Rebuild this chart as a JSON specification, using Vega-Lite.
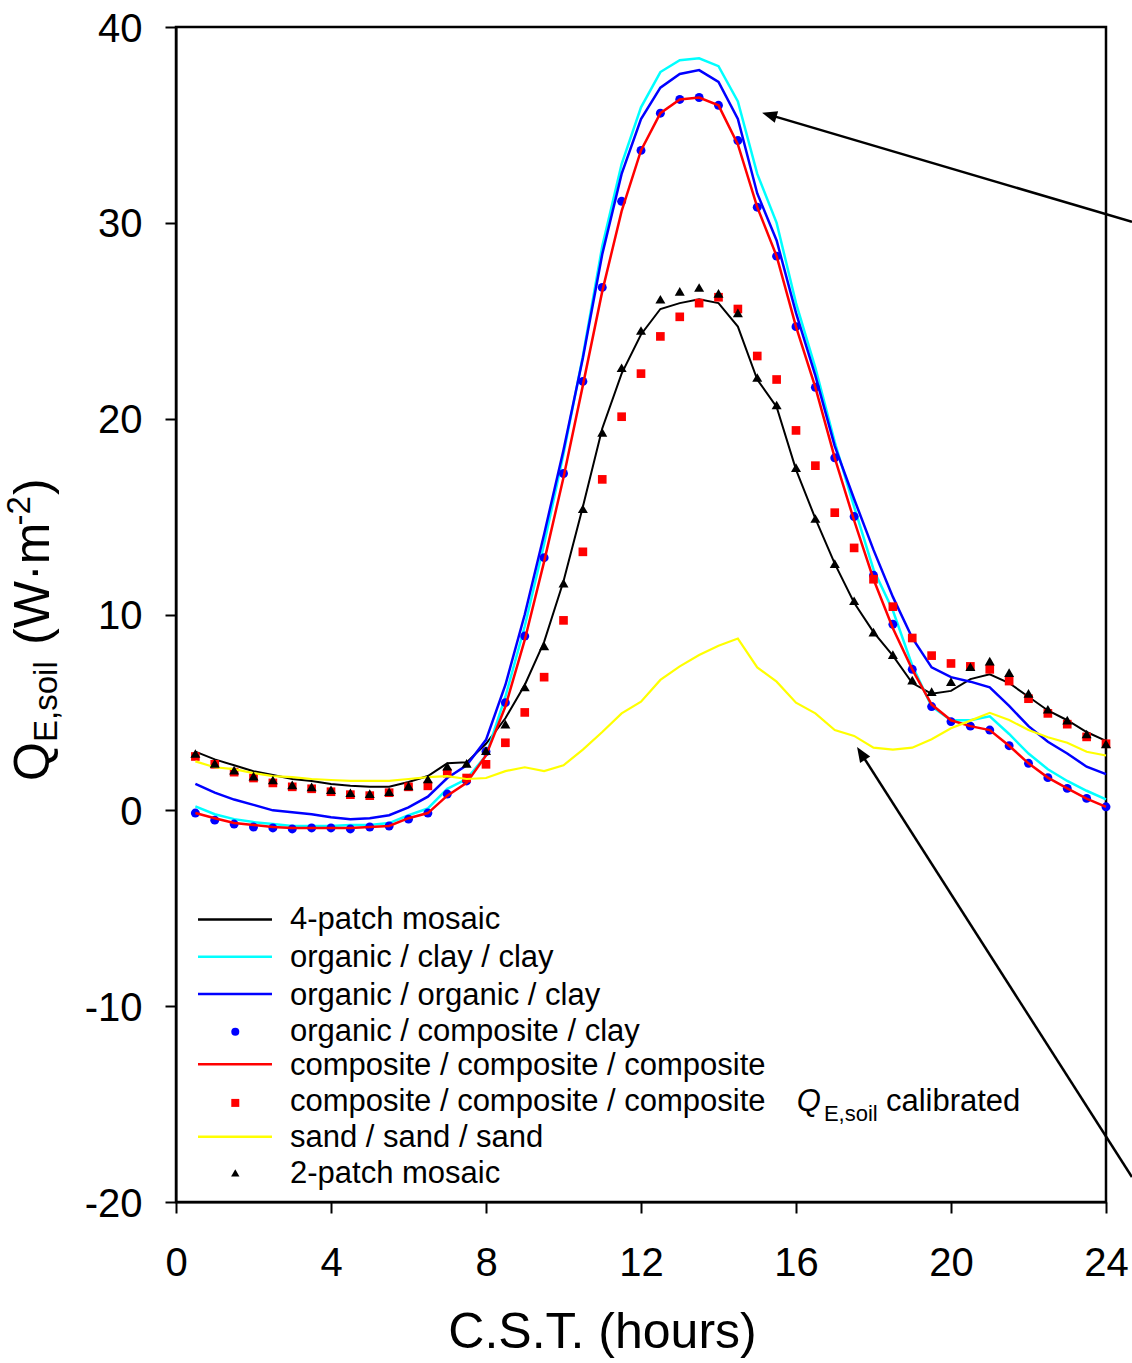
{
  "$schema": "https://vega.github.io/schema/vega-lite/v6.json",
  "width": 930,
  "height": 1175,
  "autosize": {"type": "none"},
  "padding": {"left": 176, "top": 27, "right": 26, "bottom": 161},
  "background": "white",
  "config": {
    "font": "Liberation Sans",
    "view": {"stroke": "black", "strokeWidth": 2.5}
  },
  "datasets": {
    "fourPatch": [{"h":0.5,"v":3.0},{"h":1,"v":2.6},{"h":1.5,"v":2.3},{"h":2,"v":2.0},{"h":2.5,"v":1.8},{"h":3,"v":1.6},{"h":3.5,"v":1.5},{"h":4,"v":1.35},{"h":4.5,"v":1.25},{"h":5,"v":1.2},{"h":5.5,"v":1.2},{"h":6,"v":1.45},{"h":6.5,"v":1.75},{"h":7,"v":2.4},{"h":7.5,"v":2.45},{"h":8,"v":3.4},{"h":8.5,"v":4.7},{"h":9,"v":6.4},{"h":9.5,"v":8.6},{"h":10,"v":11.7},{"h":10.5,"v":15.5},{"h":11,"v":19.5},{"h":11.5,"v":22.3},{"h":12,"v":24.3},{"h":12.5,"v":25.6},{"h":13,"v":25.9},{"h":13.5,"v":26.1},{"h":14,"v":25.9},{"h":14.5,"v":24.7},{"h":15,"v":22.0},{"h":15.5,"v":20.6},{"h":16,"v":17.4},{"h":16.5,"v":14.9},{"h":17,"v":12.6},{"h":17.5,"v":10.6},{"h":18,"v":9.1},{"h":18.5,"v":7.9},{"h":19,"v":6.5},{"h":19.5,"v":5.95},{"h":20,"v":6.1},{"h":20.5,"v":6.7},{"h":21,"v":6.95},{"h":21.5,"v":6.5},{"h":22,"v":5.8},{"h":22.5,"v":5.1},{"h":23,"v":4.6},{"h":23.5,"v":4.0},{"h":24,"v":3.55}],
    "orgClayClay": [{"h":0.5,"v":0.2},{"h":1,"v":-0.2},{"h":1.5,"v":-0.45},{"h":2,"v":-0.6},{"h":2.5,"v":-0.7},{"h":3,"v":-0.8},{"h":3.5,"v":-0.8},{"h":4,"v":-0.8},{"h":4.5,"v":-0.75},{"h":5,"v":-0.75},{"h":5.5,"v":-0.65},{"h":6,"v":-0.25},{"h":6.5,"v":0.1},{"h":7,"v":1.1},{"h":7.5,"v":1.6},{"h":8,"v":2.8},{"h":8.5,"v":5.8},{"h":9,"v":9.4},{"h":9.5,"v":13.6},{"h":10,"v":18.2},{"h":10.5,"v":23.2},{"h":11,"v":28.8},{"h":11.5,"v":33.0},{"h":12,"v":35.9},{"h":12.5,"v":37.7},{"h":13,"v":38.3},{"h":13.5,"v":38.4},{"h":14,"v":38.0},{"h":14.5,"v":36.2},{"h":15,"v":32.5},{"h":15.5,"v":30.0},{"h":16,"v":25.9},{"h":16.5,"v":22.6},{"h":17,"v":18.8},{"h":17.5,"v":15.5},{"h":18,"v":12.3},{"h":18.5,"v":10.2},{"h":19,"v":7.4},{"h":19.5,"v":5.3},{"h":20,"v":4.6},{"h":20.5,"v":4.6},{"h":21,"v":4.8},{"h":21.5,"v":3.9},{"h":22,"v":2.9},{"h":22.5,"v":2.1},{"h":23,"v":1.5},{"h":23.5,"v":1.0},{"h":24,"v":0.56}],
    "orgOrgClay": [{"h":0.5,"v":1.35},{"h":1,"v":0.9},{"h":1.5,"v":0.55},{"h":2,"v":0.28},{"h":2.5,"v":0.0},{"h":3,"v":-0.1},{"h":3.5,"v":-0.2},{"h":4,"v":-0.35},{"h":4.5,"v":-0.45},{"h":5,"v":-0.4},{"h":5.5,"v":-0.25},{"h":6,"v":0.15},{"h":6.5,"v":0.7},{"h":7,"v":1.65},{"h":7.5,"v":2.3},{"h":8,"v":3.6},{"h":8.5,"v":6.4},{"h":9,"v":10.0},{"h":9.5,"v":14.1},{"h":10,"v":18.4},{"h":10.5,"v":23.1},{"h":11,"v":28.4},{"h":11.5,"v":32.5},{"h":12,"v":35.3},{"h":12.5,"v":36.9},{"h":13,"v":37.6},{"h":13.5,"v":37.8},{"h":14,"v":37.2},{"h":14.5,"v":35.3},{"h":15,"v":31.5},{"h":15.5,"v":29.1},{"h":16,"v":25.4},{"h":16.5,"v":22.2},{"h":17,"v":18.6},{"h":17.5,"v":15.9},{"h":18,"v":13.3},{"h":18.5,"v":10.9},{"h":19,"v":8.8},{"h":19.5,"v":7.3},{"h":20,"v":6.8},{"h":20.5,"v":6.57},{"h":21,"v":6.28},{"h":21.5,"v":5.33},{"h":22,"v":4.3},{"h":22.5,"v":3.5},{"h":23,"v":2.9},{"h":23.5,"v":2.23},{"h":24,"v":1.85}],
    "orgCompClay": [{"h":0.5,"v":-0.14},{"h":1,"v":-0.5},{"h":1.5,"v":-0.7},{"h":2,"v":-0.85},{"h":2.5,"v":-0.9},{"h":3,"v":-0.95},{"h":3.5,"v":-0.9},{"h":4,"v":-0.9},{"h":4.5,"v":-0.95},{"h":5,"v":-0.85},{"h":5.5,"v":-0.8},{"h":6,"v":-0.45},{"h":6.5,"v":-0.14},{"h":7,"v":0.83},{"h":7.5,"v":1.5},{"h":8,"v":3.0},{"h":8.5,"v":5.5},{"h":9,"v":8.9},{"h":9.5,"v":12.9},{"h":10,"v":17.2},{"h":10.5,"v":21.9},{"h":11,"v":26.7},{"h":11.5,"v":31.1},{"h":12,"v":33.7},{"h":12.5,"v":35.6},{"h":13,"v":36.3},{"h":13.5,"v":36.4},{"h":14,"v":36.0},{"h":14.5,"v":34.2},{"h":15,"v":30.8},{"h":15.5,"v":28.3},{"h":16,"v":24.7},{"h":16.5,"v":21.6},{"h":17,"v":18.0},{"h":17.5,"v":15.0},{"h":18,"v":12.0},{"h":18.5,"v":9.5},{"h":19,"v":7.2},{"h":19.5,"v":5.3},{"h":20,"v":4.53},{"h":20.5,"v":4.3},{"h":21,"v":4.1},{"h":21.5,"v":3.3},{"h":22,"v":2.4},{"h":22.5,"v":1.67},{"h":23,"v":1.12},{"h":23.5,"v":0.61},{"h":24,"v":0.18}],
    "compComp": [{"h":0.5,"v":-0.14},{"h":1,"v":-0.4},{"h":1.5,"v":-0.65},{"h":2,"v":-0.75},{"h":2.5,"v":-0.85},{"h":3,"v":-0.9},{"h":3.5,"v":-0.9},{"h":4,"v":-0.9},{"h":4.5,"v":-0.9},{"h":5,"v":-0.85},{"h":5.5,"v":-0.8},{"h":6,"v":-0.4},{"h":6.5,"v":-0.14},{"h":7,"v":0.75},{"h":7.5,"v":1.4},{"h":8,"v":2.8},{"h":8.5,"v":5.3},{"h":9,"v":8.7},{"h":9.5,"v":12.7},{"h":10,"v":17.0},{"h":10.5,"v":21.7},{"h":11,"v":26.5},{"h":11.5,"v":30.6},{"h":12,"v":33.7},{"h":12.5,"v":35.6},{"h":13,"v":36.3},{"h":13.5,"v":36.4},{"h":14,"v":36.0},{"h":14.5,"v":34.0},{"h":15,"v":30.8},{"h":15.5,"v":28.3},{"h":16,"v":24.7},{"h":16.5,"v":21.6},{"h":17,"v":18.0},{"h":17.5,"v":14.8},{"h":18,"v":11.8},{"h":18.5,"v":9.3},{"h":19,"v":7.2},{"h":19.5,"v":5.4},{"h":20,"v":4.6},{"h":20.5,"v":4.3},{"h":21,"v":4.1},{"h":21.5,"v":3.3},{"h":22,"v":2.4},{"h":22.5,"v":1.67},{"h":23,"v":1.12},{"h":23.5,"v":0.6},{"h":24,"v":0.18}],
    "compCalib": [{"h":0.5,"v":2.75},{"h":1,"v":2.35},{"h":1.5,"v":1.95},{"h":2,"v":1.65},{"h":2.5,"v":1.4},{"h":3,"v":1.2},{"h":3.5,"v":1.1},{"h":4,"v":0.95},{"h":4.5,"v":0.8},{"h":5,"v":0.75},{"h":5.5,"v":0.9},{"h":6,"v":1.2},{"h":6.5,"v":1.25},{"h":7,"v":1.9},{"h":7.5,"v":1.65},{"h":8,"v":2.35},{"h":8.5,"v":3.45},{"h":9,"v":5.0},{"h":9.5,"v":6.8},{"h":10,"v":9.7},{"h":10.5,"v":13.2},{"h":11,"v":16.9},{"h":11.5,"v":20.1},{"h":12,"v":22.3},{"h":12.5,"v":24.2},{"h":13,"v":25.2},{"h":13.5,"v":25.9},{"h":14,"v":26.2},{"h":14.5,"v":25.6},{"h":15,"v":23.2},{"h":15.5,"v":22.0},{"h":16,"v":19.4},{"h":16.5,"v":17.6},{"h":17,"v":15.2},{"h":17.5,"v":13.4},{"h":18,"v":11.8},{"h":18.5,"v":10.4},{"h":19,"v":8.8},{"h":19.5,"v":7.9},{"h":20,"v":7.5},{"h":20.5,"v":7.35},{"h":21,"v":7.2},{"h":21.5,"v":6.6},{"h":22,"v":5.7},{"h":22.5,"v":4.95},{"h":23,"v":4.4},{"h":23.5,"v":3.75},{"h":24,"v":3.4}],
    "sand": [{"h":0.5,"v":2.5},{"h":1,"v":2.2},{"h":1.5,"v":2.1},{"h":2,"v":1.9},{"h":2.5,"v":1.75},{"h":3,"v":1.7},{"h":3.5,"v":1.6},{"h":4,"v":1.55},{"h":4.5,"v":1.5},{"h":5,"v":1.5},{"h":5.5,"v":1.5},{"h":6,"v":1.6},{"h":6.5,"v":1.7},{"h":7,"v":1.75},{"h":7.5,"v":1.6},{"h":8,"v":1.65},{"h":8.5,"v":2.0},{"h":9,"v":2.2},{"h":9.5,"v":2.0},{"h":10,"v":2.3},{"h":10.5,"v":3.1},{"h":11,"v":4.0},{"h":11.5,"v":4.95},{"h":12,"v":5.55},{"h":12.5,"v":6.66},{"h":13,"v":7.35},{"h":13.5,"v":7.93},{"h":14,"v":8.4},{"h":14.5,"v":8.77},{"h":15,"v":7.3},{"h":15.5,"v":6.57},{"h":16,"v":5.5},{"h":16.5,"v":4.95},{"h":17,"v":4.1},{"h":17.5,"v":3.8},{"h":18,"v":3.2},{"h":18.5,"v":3.1},{"h":19,"v":3.2},{"h":19.5,"v":3.63},{"h":20,"v":4.19},{"h":20.5,"v":4.58},{"h":21,"v":4.98},{"h":21.5,"v":4.61},{"h":22,"v":4.1},{"h":22.5,"v":3.73},{"h":23,"v":3.45},{"h":23.5,"v":2.99},{"h":24,"v":2.8}],
    "twoPatch": [{"h":0.5,"v":2.9},{"h":1,"v":2.4},{"h":1.5,"v":2.05},{"h":2,"v":1.75},{"h":2.5,"v":1.55},{"h":3,"v":1.3},{"h":3.5,"v":1.2},{"h":4,"v":1.05},{"h":4.5,"v":0.9},{"h":5,"v":0.85},{"h":5.5,"v":0.95},{"h":6,"v":1.25},{"h":6.5,"v":1.6},{"h":7,"v":2.25},{"h":7.5,"v":2.4},{"h":8,"v":3.05},{"h":8.5,"v":4.4},{"h":9,"v":6.3},{"h":9.5,"v":8.4},{"h":10,"v":11.6},{"h":10.5,"v":15.4},{"h":11,"v":19.3},{"h":11.5,"v":22.6},{"h":12,"v":24.5},{"h":12.5,"v":26.1},{"h":13,"v":26.5},{"h":13.5,"v":26.7},{"h":14,"v":26.4},{"h":14.5,"v":25.4},{"h":15,"v":22.1},{"h":15.5,"v":20.7},{"h":16,"v":17.5},{"h":16.5,"v":14.9},{"h":17,"v":12.6},{"h":17.5,"v":10.7},{"h":18,"v":9.1},{"h":18.5,"v":7.95},{"h":19,"v":6.65},{"h":19.5,"v":6.06},{"h":20,"v":6.57},{"h":20.5,"v":7.33},{"h":21,"v":7.62},{"h":21.5,"v":7.03},{"h":22,"v":5.97},{"h":22.5,"v":5.16},{"h":23,"v":4.61},{"h":23.5,"v":3.9},{"h":24,"v":3.39}]
  },
  "layer": [
    {
      "data": {"name": "fourPatch"},
      "mark": {"type": "line", "color": "black", "strokeWidth": 2},
      "encoding": {
        "x": {"field": "h", "type": "quantitative", "scale": {"domain": [0, 24], "nice": false, "zero": false},
          "axis": {"values": [0, 4, 8, 12, 16, 20, 24], "title": "C.S.T. (hours)", "grid": false, "labelFlush": false, "labelOverlap": false,
            "labelFont": "Liberation Sans", "labelFontSize": 40, "labelColor": "black", "labelPadding": 30,
            "tickSize": 11, "tickWidth": 2, "tickColor": "black", "domainWidth": 2, "domainColor": "black",
            "titleFont": "Liberation Sans", "titleFontSize": 50, "titleFontWeight": "normal", "titleColor": "black",
            "titleX": 426, "titleY": 145, "titleBaseline": "alphabetic", "titleAlign": "center"}},
        "y": {"field": "v", "type": "quantitative", "scale": {"domain": [-20, 40], "nice": false, "zero": false},
          "axis": {"values": [-20, -10, 0, 10, 20, 30, 40], "title": null, "grid": false, "labelFlush": false, "labelOverlap": false,
            "labelExpr": "'' + datum.value",
            "labelFont": "Liberation Sans", "labelFontSize": 40, "labelColor": "black", "labelPadding": 23, "labelOffset": 2,
            "tickSize": 11, "tickWidth": 2, "tickColor": "black", "domainWidth": 2, "domainColor": "black"}}
      }
    },
    {
      "data": {"name": "orgClayClay"},
      "mark": {"type": "line", "color": "#00FFFF", "strokeWidth": 2.5},
      "encoding": {
        "x": {"field": "h", "type": "quantitative", "scale": {"domain": [0, 24], "nice": false, "zero": false}},
        "y": {"field": "v", "type": "quantitative", "scale": {"domain": [-20, 40], "nice": false, "zero": false}}
      }
    },
    {
      "data": {"name": "orgOrgClay"},
      "mark": {"type": "line", "color": "#0000FF", "strokeWidth": 2.5},
      "encoding": {
        "x": {"field": "h", "type": "quantitative", "scale": {"domain": [0, 24], "nice": false, "zero": false}},
        "y": {"field": "v", "type": "quantitative", "scale": {"domain": [-20, 40], "nice": false, "zero": false}}
      }
    },
    {
      "data": {"name": "orgCompClay"},
      "mark": {"type": "point", "shape": "circle", "filled": true, "color": "#0000FF", "size": 80, "opacity": 1},
      "encoding": {
        "x": {"field": "h", "type": "quantitative", "scale": {"domain": [0, 24], "nice": false, "zero": false}},
        "y": {"field": "v", "type": "quantitative", "scale": {"domain": [-20, 40], "nice": false, "zero": false}}
      }
    },
    {
      "data": {"name": "compComp"},
      "mark": {"type": "line", "color": "#FF0000", "strokeWidth": 2.5},
      "encoding": {
        "x": {"field": "h", "type": "quantitative", "scale": {"domain": [0, 24], "nice": false, "zero": false}},
        "y": {"field": "v", "type": "quantitative", "scale": {"domain": [-20, 40], "nice": false, "zero": false}}
      }
    },
    {
      "data": {"name": "compCalib"},
      "mark": {"type": "point", "shape": "square", "filled": true, "color": "#FF0000", "size": 75, "opacity": 1},
      "encoding": {
        "x": {"field": "h", "type": "quantitative", "scale": {"domain": [0, 24], "nice": false, "zero": false}},
        "y": {"field": "v", "type": "quantitative", "scale": {"domain": [-20, 40], "nice": false, "zero": false}}
      }
    },
    {
      "data": {"name": "sand"},
      "mark": {"type": "line", "color": "#FFFF00", "strokeWidth": 2.2},
      "encoding": {
        "x": {"field": "h", "type": "quantitative", "scale": {"domain": [0, 24], "nice": false, "zero": false}},
        "y": {"field": "v", "type": "quantitative", "scale": {"domain": [-20, 40], "nice": false, "zero": false}}
      }
    },
    {
      "data": {"name": "twoPatch"},
      "mark": {"type": "point", "shape": "triangle-up", "filled": true, "color": "black", "size": 100, "opacity": 1},
      "encoding": {
        "x": {"field": "h", "type": "quantitative", "scale": {"domain": [0, 24], "nice": false, "zero": false}},
        "y": {"field": "v", "type": "quantitative", "scale": {"domain": [-20, 40], "nice": false, "zero": false}}
      }
    },
    {
      "data": {"values": [{}]},
      "mark": {"type": "rule", "color": "black", "strokeWidth": 2.5, "clip": false},
      "encoding": {
        "x": {"datum": 24.67, "type": "quantitative", "scale": {"domain": [0, 24], "nice": false, "zero": false}},
        "y": {"datum": 30.05, "type": "quantitative", "scale": {"domain": [-20, 40], "nice": false, "zero": false}},
        "x2": {"datum": 15.25},
        "y2": {"datum": 35.55}
      }
    },
    {
      "data": {"values": [{}]},
      "mark": {"type": "rule", "color": "black", "strokeWidth": 2.5, "clip": false},
      "encoding": {
        "x": {"datum": 24.67, "type": "quantitative", "scale": {"domain": [0, 24], "nice": false, "zero": false}},
        "y": {"datum": -18.73, "type": "quantitative", "scale": {"domain": [-20, 40], "nice": false, "zero": false}},
        "x2": {"datum": 17.65},
        "y2": {"datum": 3.0}
      }
    },
    {
      "data": {"values": [{}]},
      "mark": {"type": "point", "shape": "M0,-1L0.8,1L-0.8,1Z", "filled": true, "color": "black", "size": 225, "opacity": 1, "angle": 286.4, "strokeWidth": 0},
      "encoding": {
        "x": {"datum": 15.31, "type": "quantitative", "scale": {"domain": [0, 24], "nice": false, "zero": false}},
        "y": {"datum": 35.51, "type": "quantitative", "scale": {"domain": [-20, 40], "nice": false, "zero": false}}
      }
    },
    {
      "data": {"values": [{}]},
      "mark": {"type": "point", "shape": "M0,-1L0.8,1L-0.8,1Z", "filled": true, "color": "black", "size": 225, "opacity": 1, "angle": 327.4, "strokeWidth": 0},
      "encoding": {
        "x": {"datum": 17.68, "type": "quantitative", "scale": {"domain": [0, 24], "nice": false, "zero": false}},
        "y": {"datum": 2.91, "type": "quantitative", "scale": {"domain": [-20, 40], "nice": false, "zero": false}}
      }
    },
    {
      "data": {"values": [{}]},
      "mark": {"type": "rule", "color": "black", "strokeWidth": 2.5},
      "encoding": {
        "x": {"datum": 0.568, "type": "quantitative", "scale": {"domain": [0, 24], "nice": false, "zero": false}},
        "y": {"datum": -5.57, "type": "quantitative", "scale": {"domain": [-20, 40], "nice": false, "zero": false}},
        "x2": {"datum": 2.477}
      }
    },
    {
      "data": {"values": [{}]},
      "mark": {"type": "rule", "color": "#00FFFF", "strokeWidth": 2.5},
      "encoding": {
        "x": {"datum": 0.568, "type": "quantitative", "scale": {"domain": [0, 24], "nice": false, "zero": false}},
        "y": {"datum": -7.48, "type": "quantitative", "scale": {"domain": [-20, 40], "nice": false, "zero": false}},
        "x2": {"datum": 2.477}
      }
    },
    {
      "data": {"values": [{}]},
      "mark": {"type": "rule", "color": "#0000FF", "strokeWidth": 2.5},
      "encoding": {
        "x": {"datum": 0.568, "type": "quantitative", "scale": {"domain": [0, 24], "nice": false, "zero": false}},
        "y": {"datum": -9.38, "type": "quantitative", "scale": {"domain": [-20, 40], "nice": false, "zero": false}},
        "x2": {"datum": 2.477}
      }
    },
    {
      "data": {"values": [{}]},
      "mark": {"type": "rule", "color": "#FF0000", "strokeWidth": 2.5},
      "encoding": {
        "x": {"datum": 0.568, "type": "quantitative", "scale": {"domain": [0, 24], "nice": false, "zero": false}},
        "y": {"datum": -12.96, "type": "quantitative", "scale": {"domain": [-20, 40], "nice": false, "zero": false}},
        "x2": {"datum": 2.477}
      }
    },
    {
      "data": {"values": [{}]},
      "mark": {"type": "rule", "color": "#FFFF00", "strokeWidth": 2.5},
      "encoding": {
        "x": {"datum": 0.568, "type": "quantitative", "scale": {"domain": [0, 24], "nice": false, "zero": false}},
        "y": {"datum": -16.67, "type": "quantitative", "scale": {"domain": [-20, 40], "nice": false, "zero": false}},
        "x2": {"datum": 2.477}
      }
    },
    {
      "data": {"values": [{}]},
      "mark": {"type": "point", "shape": "circle", "filled": true, "color": "#0000FF", "size": 64, "opacity": 1},
      "encoding": {
        "x": {"datum": 1.53, "type": "quantitative", "scale": {"domain": [0, 24], "nice": false, "zero": false}},
        "y": {"datum": -11.31, "type": "quantitative", "scale": {"domain": [-20, 40], "nice": false, "zero": false}}
      }
    },
    {
      "data": {"values": [{}]},
      "mark": {"type": "point", "shape": "square", "filled": true, "color": "#FF0000", "size": 64, "opacity": 1},
      "encoding": {
        "x": {"datum": 1.53, "type": "quantitative", "scale": {"domain": [0, 24], "nice": false, "zero": false}},
        "y": {"datum": -14.94, "type": "quantitative", "scale": {"domain": [-20, 40], "nice": false, "zero": false}}
      }
    },
    {
      "data": {"values": [{}]},
      "mark": {"type": "point", "shape": "triangle-up", "filled": true, "color": "black", "size": 70, "opacity": 1},
      "encoding": {
        "x": {"datum": 1.53, "type": "quantitative", "scale": {"domain": [0, 24], "nice": false, "zero": false}},
        "y": {"datum": -18.51, "type": "quantitative", "scale": {"domain": [-20, 40], "nice": false, "zero": false}}
      }
    },
    {
      "data": {"values": [{}]},
      "mark": {"type": "text", "text": "4-patch mosaic", "font": "Liberation Sans", "fontSize": 31, "align": "left", "baseline": "alphabetic", "color": "black"},
      "encoding": {
        "x": {"datum": 2.942, "type": "quantitative", "scale": {"domain": [0, 24], "nice": false, "zero": false}},
        "y": {"datum": -6.08, "type": "quantitative", "scale": {"domain": [-20, 40], "nice": false, "zero": false}}
      }
    },
    {
      "data": {"values": [{}]},
      "mark": {"type": "text", "text": "organic / clay / clay", "font": "Liberation Sans", "fontSize": 31, "align": "left", "baseline": "alphabetic", "color": "black"},
      "encoding": {
        "x": {"datum": 2.942, "type": "quantitative", "scale": {"domain": [0, 24], "nice": false, "zero": false}},
        "y": {"datum": -8.02, "type": "quantitative", "scale": {"domain": [-20, 40], "nice": false, "zero": false}}
      }
    },
    {
      "data": {"values": [{}]},
      "mark": {"type": "text", "text": "organic / organic / clay", "font": "Liberation Sans", "fontSize": 31, "align": "left", "baseline": "alphabetic", "color": "black"},
      "encoding": {
        "x": {"datum": 2.942, "type": "quantitative", "scale": {"domain": [0, 24], "nice": false, "zero": false}},
        "y": {"datum": -9.94, "type": "quantitative", "scale": {"domain": [-20, 40], "nice": false, "zero": false}}
      }
    },
    {
      "data": {"values": [{}]},
      "mark": {"type": "text", "text": "organic / composite / clay", "font": "Liberation Sans", "fontSize": 31, "align": "left", "baseline": "alphabetic", "color": "black"},
      "encoding": {
        "x": {"datum": 2.942, "type": "quantitative", "scale": {"domain": [0, 24], "nice": false, "zero": false}},
        "y": {"datum": -11.76, "type": "quantitative", "scale": {"domain": [-20, 40], "nice": false, "zero": false}}
      }
    },
    {
      "data": {"values": [{}]},
      "mark": {"type": "text", "text": "composite / composite / composite", "font": "Liberation Sans", "fontSize": 31, "align": "left", "baseline": "alphabetic", "color": "black"},
      "encoding": {
        "x": {"datum": 2.942, "type": "quantitative", "scale": {"domain": [0, 24], "nice": false, "zero": false}},
        "y": {"datum": -13.52, "type": "quantitative", "scale": {"domain": [-20, 40], "nice": false, "zero": false}}
      }
    },
    {
      "data": {"values": [{}]},
      "mark": {"type": "text", "text": "composite / composite / composite", "font": "Liberation Sans", "fontSize": 31, "align": "left", "baseline": "alphabetic", "color": "black"},
      "encoding": {
        "x": {"datum": 2.942, "type": "quantitative", "scale": {"domain": [0, 24], "nice": false, "zero": false}},
        "y": {"datum": -15.34, "type": "quantitative", "scale": {"domain": [-20, 40], "nice": false, "zero": false}}
      }
    },
    {
      "data": {"values": [{}]},
      "mark": {"type": "text", "text": "Q", "font": "Liberation Sans", "fontStyle": "italic", "fontSize": 31, "align": "left", "baseline": "alphabetic", "color": "black"},
      "encoding": {
        "x": {"datum": 16.02, "type": "quantitative", "scale": {"domain": [0, 24], "nice": false, "zero": false}},
        "y": {"datum": -15.34, "type": "quantitative", "scale": {"domain": [-20, 40], "nice": false, "zero": false}}
      }
    },
    {
      "data": {"values": [{}]},
      "mark": {"type": "text", "text": "E,soil", "font": "Liberation Sans", "fontSize": 22, "align": "left", "baseline": "alphabetic", "color": "black"},
      "encoding": {
        "x": {"datum": 16.72, "type": "quantitative", "scale": {"domain": [0, 24], "nice": false, "zero": false}},
        "y": {"datum": -15.86, "type": "quantitative", "scale": {"domain": [-20, 40], "nice": false, "zero": false}}
      }
    },
    {
      "data": {"values": [{}]},
      "mark": {"type": "text", "text": "calibrated", "font": "Liberation Sans", "fontSize": 31, "align": "left", "baseline": "alphabetic", "color": "black"},
      "encoding": {
        "x": {"datum": 18.32, "type": "quantitative", "scale": {"domain": [0, 24], "nice": false, "zero": false}},
        "y": {"datum": -15.34, "type": "quantitative", "scale": {"domain": [-20, 40], "nice": false, "zero": false}}
      }
    },
    {
      "data": {"values": [{}]},
      "mark": {"type": "text", "text": "sand / sand / sand", "font": "Liberation Sans", "fontSize": 31, "align": "left", "baseline": "alphabetic", "color": "black"},
      "encoding": {
        "x": {"datum": 2.942, "type": "quantitative", "scale": {"domain": [0, 24], "nice": false, "zero": false}},
        "y": {"datum": -17.21, "type": "quantitative", "scale": {"domain": [-20, 40], "nice": false, "zero": false}}
      }
    },
    {
      "data": {"values": [{}]},
      "mark": {"type": "text", "text": "2-patch mosaic", "font": "Liberation Sans", "fontSize": 31, "align": "left", "baseline": "alphabetic", "color": "black"},
      "encoding": {
        "x": {"datum": 2.942, "type": "quantitative", "scale": {"domain": [0, 24], "nice": false, "zero": false}},
        "y": {"datum": -19.02, "type": "quantitative", "scale": {"domain": [-20, 40], "nice": false, "zero": false}}
      }
    },
    {
      "data": {"values": [{}]},
      "mark": {"type": "text", "text": "Q", "font": "Liberation Sans", "fontSize": 50, "align": "left", "baseline": "alphabetic", "angle": 270, "color": "black"},
      "encoding": {
        "x": {"datum": -3.28, "type": "quantitative", "scale": {"domain": [0, 24], "nice": false, "zero": false}},
        "y": {"datum": 1.50, "type": "quantitative", "scale": {"domain": [-20, 40], "nice": false, "zero": false}}
      }
    },
    {
      "data": {"values": [{}]},
      "mark": {"type": "text", "text": "E,soil", "font": "Liberation Sans", "fontSize": 33, "align": "left", "baseline": "alphabetic", "angle": 270, "color": "black"},
      "encoding": {
        "x": {"datum": -3.07, "type": "quantitative", "scale": {"domain": [0, 24], "nice": false, "zero": false}},
        "y": {"datum": 3.49, "type": "quantitative", "scale": {"domain": [-20, 40], "nice": false, "zero": false}}
      }
    },
    {
      "data": {"values": [{}]},
      "mark": {"type": "text", "text": "(W·m", "font": "Liberation Sans", "fontSize": 50, "align": "left", "baseline": "alphabetic", "angle": 270, "color": "black"},
      "encoding": {
        "x": {"datum": -3.28, "type": "quantitative", "scale": {"domain": [0, 24], "nice": false, "zero": false}},
        "y": {"datum": 8.45, "type": "quantitative", "scale": {"domain": [-20, 40], "nice": false, "zero": false}}
      }
    },
    {
      "data": {"values": [{}]},
      "mark": {"type": "text", "text": "-2", "font": "Liberation Sans", "fontSize": 33, "align": "left", "baseline": "alphabetic", "angle": 270, "color": "black"},
      "encoding": {
        "x": {"datum": -3.77, "type": "quantitative", "scale": {"domain": [0, 24], "nice": false, "zero": false}},
        "y": {"datum": 14.55, "type": "quantitative", "scale": {"domain": [-20, 40], "nice": false, "zero": false}}
      }
    },
    {
      "data": {"values": [{}]},
      "mark": {"type": "text", "text": ")", "font": "Liberation Sans", "fontSize": 50, "align": "left", "baseline": "alphabetic", "angle": 270, "color": "black"},
      "encoding": {
        "x": {"datum": -3.28, "type": "quantitative", "scale": {"domain": [0, 24], "nice": false, "zero": false}},
        "y": {"datum": 16.10, "type": "quantitative", "scale": {"domain": [-20, 40], "nice": false, "zero": false}}
      }
    }
  ]
}
